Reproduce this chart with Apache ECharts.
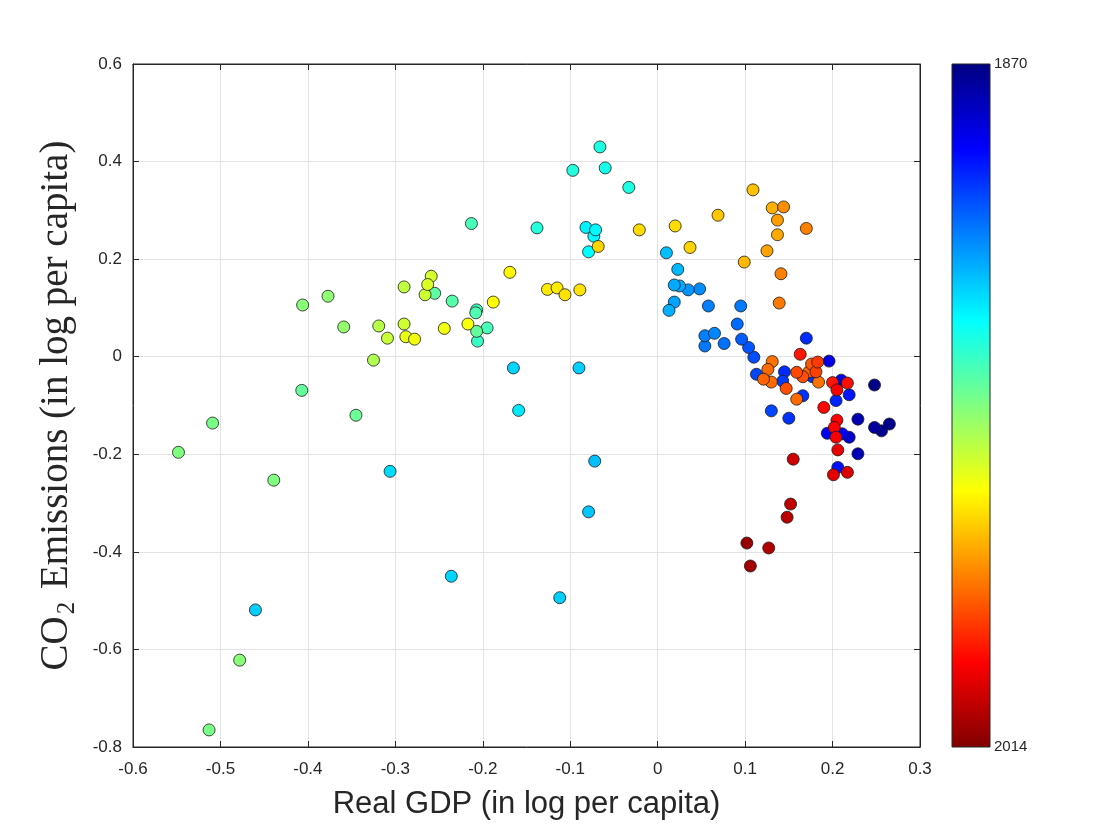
<!DOCTYPE html>
<html>
<head>
<meta charset="utf-8">
<title>CO2 vs GDP</title>
<script src="https://cdn.jsdelivr.net/npm/echarts@6/dist/echarts.min.js"></script>
<style>
  html, body { margin: 0; padding: 0; background: #fff; }
  #chart { width: 1120px; height: 840px; }
</style>
</head>
<body>
<div id="chart"></div>
<script>
// values; year
var years = [
  1871, 1872, 1873, 1874, 1877, 1878,
  1882, 1884, 1885, 1886, 1888, 1890, 1891,
  1893, 1894, 1895, 1895, 1894, 1896, 1895, 1898, 1898, 1899, 1900, 1901,
  1903, 1905, 1906, 1904, 1907, 1906, 1905, 1908,
  1909, 1911, 1913, 1912, 1912, 1914, 1915, 1915, 1916,
  1917, 1918, 1917, 1919, 1918, 1917,
  1921, 1924, 1923, 1923, 1922,
  1928, 1929, 1927, 1928, 1929, 1934, 1932, 1933, 1935, 1934, 1936, 1937, 1938,
  1938, 1939, 1942, 1943, 1941, 1942, 1941, 1943, 1944, 1945,
  1950, 1952, 1949, 1951, 1953, 1954, 1955, 1953,
  1957, 1958, 1958, 1959, 1960, 1961,
  1963, 1963, 1964, 1964, 1966, 1965, 1965, 1966,
  1968, 1969, 1970, 1971,
  1972, 1973, 1974, 1976,
  1978, 1978, 1979,
  1980, 1981, 1982, 1981, 1980, 1981, 1982,
  1985, 1986, 1985, 1984, 1988, 1987,
  1993, 1993, 1995, 1994, 1997, 1996, 1996, 1997,
  1999, 2000, 2001,
  2003, 2005, 2006, 2007, 2009, 2011
];
var gdp = [
  0.248, 0.265, 0.256, 0.248, 0.229, 0.229,
  0.219, 0.196, 0.210, 0.194, 0.211, 0.206, 0.219,
  0.204, 0.170, 0.166, 0.150, 0.145, 0.143, 0.177, 0.130, 0.113, 0.110, 0.104, 0.096,
  0.091, 0.095, 0.058, 0.076, 0.065, 0.054, 0.054, 0.048,
  0.035, 0.019, 0.013, 0.025, 0.019, 0.023, 0.010, -0.072, -0.079,
  -0.112, -0.165, -0.090, -0.306, -0.236, -0.460,
  -0.159, -0.079, -0.073, -0.071, -0.082,
  -0.066, -0.097, -0.060, -0.033, -0.138, -0.213, -0.206, -0.207, -0.208, -0.195, -0.235, -0.255, -0.207,
  -0.407, -0.345, -0.439, -0.478, -0.513, -0.548, -0.509, -0.406, -0.377, -0.359,
  -0.319, -0.309, -0.325, -0.290, -0.290, -0.259, -0.263, -0.266,
  -0.288, -0.278, -0.244, -0.217, -0.188, -0.169,
  -0.126, -0.115, -0.106, -0.089, -0.068, -0.021, 0.020, 0.037,
  0.069, 0.109, 0.099, 0.131,
  0.137, 0.125, 0.137, 0.144,
  0.170, 0.141, 0.139,
  0.131, 0.126, 0.121, 0.130, 0.184, 0.159, 0.173,
  0.147, 0.159, 0.166, 0.176, 0.183, 0.181,
  0.163, 0.200, 0.190, 0.217, 0.205, 0.205, 0.202, 0.204,
  0.206, 0.201, 0.217,
  0.155, 0.152, 0.148, 0.127, 0.106, 0.102
];
var co2 = [
  -0.058, -0.138, -0.152, -0.145, -0.128, -0.199,
  -0.165, -0.009, -0.048, -0.157, -0.158, -0.227, -0.078,
  -0.090, 0.038, -0.080, -0.126, -0.031, -0.050, -0.041, -0.111, -0.036, -0.001, 0.019, 0.036,
  0.067, 0.104, 0.104, 0.027, 0.048, 0.043, 0.022, 0.139,
  0.137, 0.112, 0.095, 0.145, 0.147, 0.179, 0.213, -0.214, -0.318,
  -0.494, -0.023, -0.023, -0.235, -0.450, -0.519,
  -0.110, 0.215, 0.247, 0.260, 0.265,
  0.430, 0.382, 0.387, 0.347, 0.264, 0.273, 0.032, 0.096, 0.090, 0.059, 0.114, 0.130, 0.052,
  -0.069, -0.120, -0.253, -0.622, -0.765, -0.196, -0.136, 0.106, 0.124, 0.061,
  0.063, 0.038, -0.007, 0.143, 0.067, 0.165, 0.148, 0.127,
  0.041, 0.036, 0.058, 0.067, 0.112, 0.173,
  0.138, 0.141, 0.127, 0.137, 0.226, 0.260, 0.268, 0.224,
  0.290, 0.342, 0.194, 0.305,
  0.250, 0.217, 0.280, 0.307,
  0.263, 0.170, 0.110,
  -0.010, -0.026, -0.046, -0.052, -0.052, -0.087, -0.031,
  -0.065, -0.032, -0.041, -0.015, -0.011, -0.031,
  0.005, -0.053, -0.104, -0.054, -0.068, -0.130, -0.145, -0.165,
  -0.191, -0.242, -0.237,
  -0.210, -0.302, -0.329, -0.392, -0.429, -0.382
];
var xTicks = [-0.6, 0.3, 0.1];
var yTicks = [-0.8, 0.6, 0.2];
var yearRange = [1870, 2014];

// later years drawn on top
var points = years.map(function (y, i) { return [gdp[i], co2[i], y]; });
points.sort(function (a, b) { return a[2] - b[2]; });

var jet = ['#000080', '#0000ff', '#0080ff', '#00ffff', '#80ff80',
           '#ffff00', '#ff8000', '#ff0000', '#800000'];

var ink = '#262626';
var gridColor = '#e3e3e3';
var tickFont = {fontFamily: 'Liberation Sans, Arial, sans-serif', fontSize: 17, color: ink};

// colour bar box (pixels)
var bar = {x: 952, y: 64, w: 38, h: 683};

var chart = echarts.init(document.getElementById('chart'));

function sideAxis(pos, min, max, step) {
    return {
        type: 'value', position: pos,
        min: min, max: max, interval: step,
        axisLine: {show: true, onZero: false, lineStyle: {color: ink}},
        axisTick: {inside: true, length: 6, lineStyle: {color: ink}},
        axisLabel: {show: false},
        splitLine: {show: false}
    };
}

var barStops = jet.map(function (c, i) {
    return {offset: i / (jet.length - 1), color: c};
});

var option = {
    backgroundColor: '#fff',
    animation: false,
    grid: {
        left: 133, right: 200, top: 64, bottom: 93,
        show: true, borderColor: ink, borderWidth: 1
    },
    xAxis: [{
        type: 'value',
        min: xTicks[0], max: xTicks[1], interval: xTicks[2],
        name: 'Real GDP (in log per capita)',
        nameLocation: 'middle',
        nameGap: 42,
        nameTextStyle: {fontFamily: 'Liberation Sans, Arial, sans-serif', fontSize: 31, color: ink},
        axisLine: {show: true, onZero: false, lineStyle: {color: ink}},
        axisTick: {inside: true, length: 6, lineStyle: {color: ink}},
        axisLabel: Object.assign({margin: 14}, tickFont),
        splitLine: {show: true, lineStyle: {color: gridColor}}
    }, sideAxis('top', xTicks[0], xTicks[1], xTicks[2])],
    yAxis: [{
        type: 'value',
        min: yTicks[0], max: yTicks[1], interval: yTicks[2],
        name: '{a|CO}{b|2}{a| Emissions (in log per capita)}',
        nameLocation: 'middle',
        nameGap: 53,
        nameTextStyle: {
            rich: {
                a: {fontFamily: 'Liberation Serif, serif', fontSize: 39, color: ink, lineHeight: 46},
                b: {fontFamily: 'Liberation Serif, serif', fontSize: 25, color: ink, lineHeight: 46,
                    verticalAlign: 'bottom', padding: [0, 3, 0, 2]}
            }
        },
        axisLine: {show: true, onZero: false, lineStyle: {color: ink}},
        axisTick: {inside: true, length: 6, lineStyle: {color: ink}},
        axisLabel: Object.assign({margin: 11}, tickFont),
        splitLine: {show: true, lineStyle: {color: gridColor}}
    }, sideAxis('right', yTicks[0], yTicks[1], yTicks[2])],
    visualMap: {
        type: 'continuous',
        show: false,
        dimension: 2,
        seriesIndex: 0,
        min: yearRange[0], max: yearRange[1],
        inRange: {color: jet}
    },
    graphic: [{
        type: 'rect', z: 100, silent: true,
        shape: {x: bar.x, y: bar.y, width: bar.w, height: bar.h},
        style: {
            fill: new echarts.graphic.LinearGradient(0, 0, 0, 1, barStops),
            stroke: ink, lineWidth: 1
        }
    }, {
        type: 'text', x: bar.x + bar.w + 4, y: bar.y, z: 100,
        style: {text: String(yearRange[0]), fill: ink, verticalAlign: 'middle',
                font: '15px Liberation Sans, Arial, sans-serif'}
    }, {
        type: 'text', x: bar.x + bar.w + 4, y: bar.y + bar.h, z: 100,
        style: {text: String(yearRange[1]), fill: ink, verticalAlign: 'middle',
                font: '15px Liberation Sans, Arial, sans-serif'}
    }],
    series: [{
        type: 'scatter',
        data: points,
        symbolSize: 12,
        itemStyle: {borderColor: '#1a1a1a', borderWidth: 0.8, opacity: 1}
    }]
};

chart.setOption(option);
</script>
</body>
</html>
